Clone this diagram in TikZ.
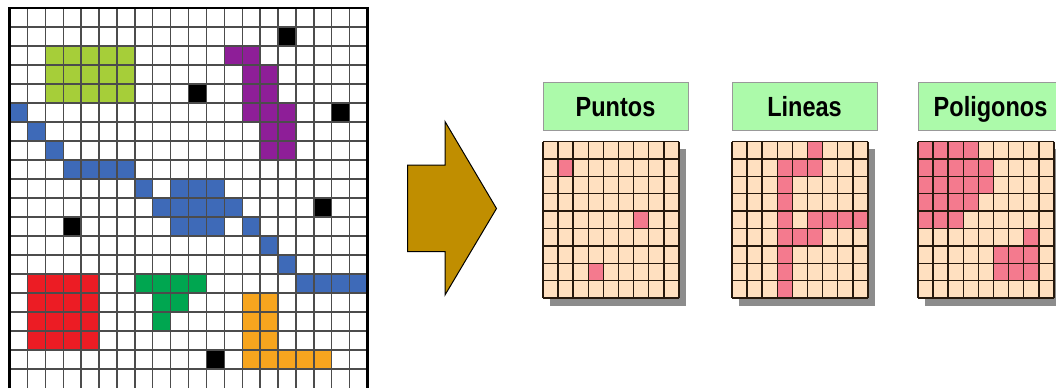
\documentclass[tikz,border=0pt]{standalone}
\usepackage{fontspec}
\setmainfont{Liberation Sans}
\definecolor{limecell}{RGB}{166,206,57}
\definecolor{bluecell}{RGB}{62,106,184}
\definecolor{purplecell}{RGB}{142,30,152}
\definecolor{redcell}{RGB}{236,28,36}
\definecolor{greencell}{RGB}{0,166,80}
\definecolor{orangecell}{RGB}{247,165,30}
\definecolor{arrowgold}{RGB}{192,142,0}
\definecolor{tagfill}{RGB}{172,250,170}
\definecolor{rastbg}{RGB}{255,224,192}
\definecolor{rastpink}{RGB}{244,122,142}

\begin{document}
\begin{tikzpicture}[x=1pt,y=-1pt,
	mainline/.style={black!70, line width=1.4pt},
	rastline/.style={black!80!brown, line width=1.5pt},
	tag/.style={draw=black!40, line width=1pt, fill=tagfill, minimum width=145pt, minimum height=48pt, inner sep=0pt, text height=20pt, text depth=0pt, font=\bfseries\fontsize{23.5}{24}\selectfont}]
	\clip (0,0) rectangle (1056,389);
	\begin{scope}[shift={(9.5pt,-8pt)}, x=17.9pt, y=-19pt]
		\fill[limecell] (2,2) rectangle (7,5);
		\fill[bluecell] (0,5) rectangle ++(1,1) (1,6) rectangle ++(1,1) (2,7) rectangle ++(1,1) (3,8) rectangle (7,9) (7,9) rectangle ++(1,1) (9,9) rectangle (12,10) (8,10) rectangle (13,11) (9,11) rectangle (12,12) (13,11) rectangle ++(1,1) (14,12) rectangle ++(1,1) (15,13) rectangle ++(1,1) (16,14) rectangle (20,15);
		\fill[purplecell] (12,2) rectangle (14,3) (13,3) rectangle (15,5) (13,5) rectangle (16,6) (14,6) rectangle (16,8);
		\fill[redcell] (1,14) rectangle (5,18);
		\fill[greencell] (7,14) rectangle (11,15) (8,15) rectangle (10,16) (8,16) rectangle (9,17);
		\fill[orangecell] (13,15) rectangle (15,18) (13,18) rectangle (18,19);
		\foreach \c/\r in {15/1,10/4,18/5,17/10,3/11,11/18} \fill (\c,\r) rectangle ++(1,1);
		\foreach \i in {0,...,20} \draw[mainline] (\i,0) -- (\i,20);
		\foreach \i in {0,...,19} \draw[mainline] (0,\i) -- (20,\i);
		\draw[line width=2.6pt] (0,20) -- (0,0) -- (20,0) -- (20,20);
	\end{scope}
	\draw[fill=arrowgold, line width=1pt] (407.5,165) -- (445,165) -- (445,121.5) -- (496.5,208.5) -- (445,295) -- (445,251.5) -- (407.5,251.5) -- cycle;
	\foreach \px/\name/\txt in {543/puntos/Puntos,732/lineas/Lineas,918/poligonos/Poligonos} {
		\node[tag] (\name) at (\px+72.5,106) {\scalebox{1}[1.18]{\txt}};
		\fill[black!45] (\px+7,148.5) rectangle ++(136,157);
		\fill[rastbg] (\px,141.5) rectangle ++(136,157);
	}
	\begin{scope}[shift={(543pt,-141.5pt)}, x=15.1pt, y=-17.4pt]
		\foreach \c/\r in {1/1,6/4,3/7} \fill[rastpink] (\c,\r) rectangle ++(1,1);
	\end{scope}
	\begin{scope}[shift={(732pt,-141.5pt)}, x=15.1pt, y=-17.4pt]
		\fill[rastpink] (5,0) rectangle (6,1) (3,1) rectangle (6,2) (3,2) rectangle (4,9) (5,4) rectangle (9,5) (4,5) rectangle (6,6);
	\end{scope}
	\begin{scope}[shift={(918pt,-141.5pt)}, x=15.1pt, y=-17.4pt]
		\fill[rastpink] (0,0) rectangle (4,1) (0,1) rectangle (5,3) (0,3) rectangle (4,4) (0,4) rectangle (3,5) (7,5) rectangle (8,6) (5,6) rectangle (8,8);
	\end{scope}
	\foreach \px in {543,732,918} \foreach \i in {0,...,9} {
		\draw[rastline] (\px+\i*15.1,141.5) -- ++(0,156.6);
		\draw[rastline] (\px,141.5+\i*17.4) -- ++(135.9,0);
	}
\end{tikzpicture}
\end{document}
